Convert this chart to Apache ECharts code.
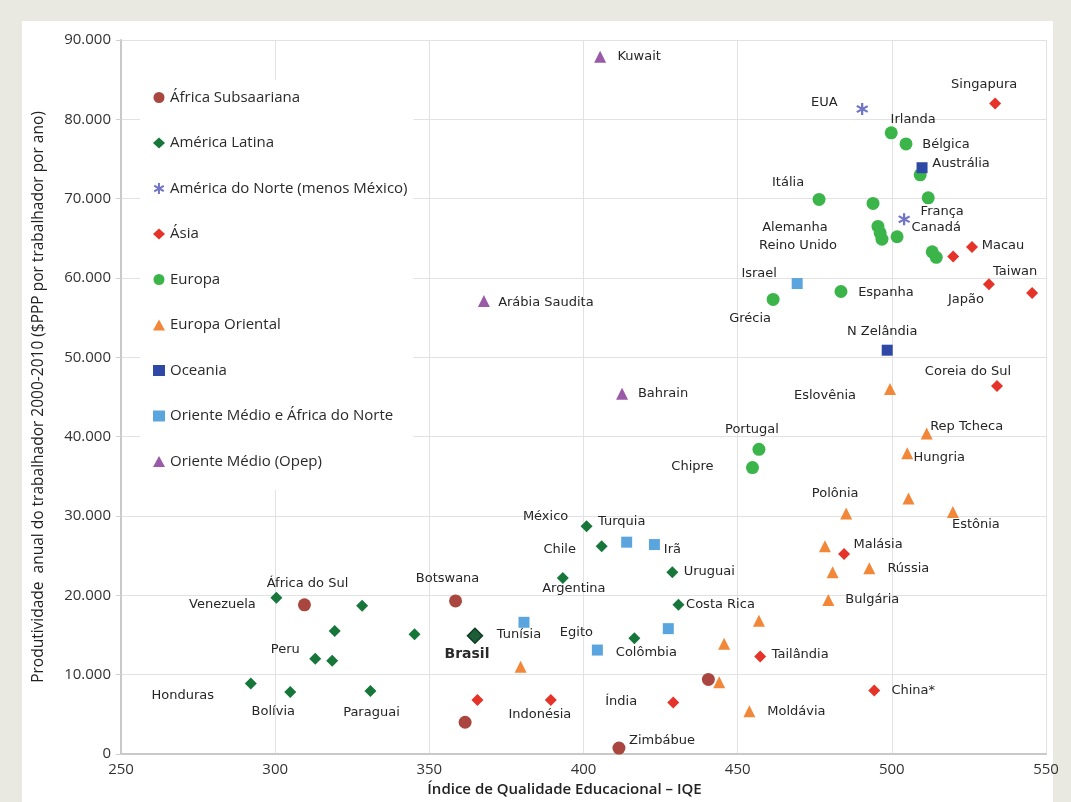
<!DOCTYPE html>
<html><head><meta charset="utf-8">
<script src="https://cdn.jsdelivr.net/npm/echarts@6/dist/echarts.min.js"></script>
<style>
html,body{margin:0;padding:0;background:#e9e8e1;}
#panel{position:absolute;left:22px;top:21px;width:1031px;height:781px;background:#fff;}
#c{position:absolute;left:0;top:0;width:1071px;height:802px;}
</style>
</head><body><div id="panel"></div><div id="c"></div>
<script>
const categories = ['África Subsaariana','América Latina','América do Norte (menos México)','Ásia','Europa','Europa Oriental','Oceania','Oriente Médio e África do Norte','Oriente Médio (Opep)'];
const xTicks = [250, 300, 350, 400, 450, 500, 550];
const yTicks = [0, 10000, 20000, 30000, 40000, 50000, 60000, 70000, 80000, 90000];

const africaSubsaariana = [[309.5,18800,'África do Sul'],[358.5,19300,'Botswana'],[361.6,4000,''],[411.5,750,'Zimbábue'],[440.5,9400,'']];
const americaLatina = [[300.4,19700,'Venezuela'],[328.2,18700,''],[319.3,15500,''],[345.2,15100,''],[364.8,14900,'Brasil'],[313,12000,'Peru'],[318.5,11750,''],[292.1,8900,'Honduras'],[304.9,7800,'Bolívia'],[330.9,7950,'Paraguai'],[401,28700,'México'],[405.9,26200,'Chile'],[393.3,22200,'Argentina'],[428.8,22900,'Uruguai'],[430.8,18800,'Costa Rica'],[416.5,14600,'Colômbia']];
const americaNorte = [[490.4,81300,'EUA'],[504,67400,'Canadá']];
const asia = [[533.5,82000,'Singapura'],[526,63900,'Macau'],[519.9,62700,''],[531.5,59200,'Japão'],[545.5,58100,'Taiwan'],[534.1,46400,'Coreia do Sul'],[484.5,25200,'Malásia'],[457.3,12300,'Tailândia'],[494.3,8000,'China*'],[429.1,6500,'Índia'],[389.4,6800,'Indonésia'],[365.6,6800,'']];
const europa = [[499.8,78300,'Irlanda'],[504.6,76900,'Bélgica'],[509.2,73000,''],[476.4,69900,'Itália'],[493.9,69400,''],[511.8,70100,'França'],[495.5,66500,'Alemanha'],[496.2,65700,''],[496.8,64900,'Reino Unido'],[501.7,65200,''],[513.1,63300,''],[514.4,62600,''],[483.5,58300,'Espanha'],[461.5,57300,'Grécia'],[456.9,38400,'Portugal'],[454.8,36100,'Chipre']];
const europaOriental = [[499.4,46000,'Eslovênia'],[511.3,40400,'Rep Tcheca'],[505,37900,'Hungria'],[505.4,32200,''],[485.2,30300,'Polônia'],[519.8,30500,'Estônia'],[478.3,26200,''],[480.8,22900,''],[492.7,23400,'Rússia'],[479.4,19400,'Bulgária'],[456.9,16800,''],[445.6,13900,''],[444,9050,''],[453.8,5400,'Moldávia'],[379.6,11000,'']];
const oceania = [[509.8,73900,'Austrália'],[498.5,50900,'N Zelândia']];
const orienteMedioAfricaNorte = [[469.3,59300,'Israel'],[414,26700,'Turquia'],[423,26400,'Irã'],[380.7,16600,'Tunísia'],[404.5,13100,'Egito'],[427.5,15800,'']];
const orienteMedioOpep = [[405.4,87900,'Kuwait'],[367.7,57100,'Arábia Saudita'],[412.5,45400,'Bahrain']];

// label placement (text centre relative to marker, px)
const labelOffset = {
 'Kuwait':[39,0],'EUA':[-38,-6],'Singapura':[-11,-19],'Irlanda':[22,-13],'Bélgica':[40,1],'Austrália':[39,-4],
 'Itália':[-31,-17],'França':[14,14],'Canadá':[32,8],'Alemanha':[-83,1],'Reino Unido':[-84,6],'Macau':[31,-1],
 'Taiwan':[-17,-21],'Japão':[-23,15],'Israel':[-38,-10],'Grécia':[-23,19],'Espanha':[45,1],'N Zelândia':[-5,-19],
 'Coreia do Sul':[-29,-14],'Eslovênia':[-65,7],'Bahrain':[41,0],'Arábia Saudita':[62,2],'Portugal':[-7,-20],
 'Chipre':[-60,-1],'Rep Tcheca':[40,-7],'Hungria':[32,4],'Polônia':[-11,-20],'Estônia':[23,13],'México':[-41,-10],
 'Turquia':[-5,-21],'Irã':[18,5],'Chile':[-42,3],'Argentina':[11,11],'Botswana':[-8,-22],'Tunísia':[-5,12],
 'Brasil':[-8,19],'Egito':[-21,-17],'Colômbia':[12,14],'Indonésia':[-11,15],'Índia':[-52,-1],'Zimbábue':[43,-7],
 'Uruguai':[37,-1],'Costa Rica':[42,0],'Malásia':[34,-9],'Rússia':[39,0],'Bulgária':[44,0],'Tailândia':[40,-2],
 'China*':[39,0],'Moldávia':[47,0],'África do Sul':[3,-21],'Venezuela':[-54,7],'Peru':[-30,-9],'Honduras':[-68,12],
 'Bolívia':[-17,20],'Paraguai':[1,22]
};

const asterisk = 'path://M41,0L59,0L59,100L41,100Z M11.7,16.3L98.3,66.3L89.3,81.9L2.7,31.9Z M2.7,68.1L89.3,18.1L98.3,33.7L11.7,83.7Z';

const styles = [
 {data: africaSubsaariana, color:'#a9463f', symbol:'circle', size:13},
 {data: americaLatina, color:'#17773b', symbol:'diamond', size:12},
 {data: americaNorte, color:'#6f74c6', symbol: asterisk, size:12},
 {data: asia, color:'#e5332a', symbol:'diamond', size:12},
 {data: europa, color:'#3bb54a', symbol:'circle', size:13},
 {data: europaOriental, color:'#f2873a', symbol:'triangle', size:12},
 {data: oceania, color:'#2e48a5', symbol:'rect', size:11},
 {data: orienteMedioAfricaNorte, color:'#5aa5de', symbol:'rect', size:11},
 {data: orienteMedioOpep, color:'#9a5aa8', symbol:'triangle', size:12}
];

const labelFont = {fontFamily:'DejaVu Sans', fontSize:13, color:'#262626'};

const series = styles.map((s, i) => ({
  name: categories[i],
  type: 'scatter',
  symbol: s.symbol,
  symbolSize: s.size,
  itemStyle: {color: s.color, opacity: 1},
  data: s.data.map(d => {
    const item = {value: [d[0], d[1]], name: d[2]};
    if (d[2]) {
      const isBr = d[2] === 'Brasil';
      item.label = Object.assign({show: true, position: 'inside', offset: labelOffset[d[2]] || [0, -14],
        formatter: d[2]}, labelFont, isBr ? {fontWeight: 'bold', fontSize: 14, color:'#2a2a2a'} : {});
      if (isBr) {
        item.symbolSize = 15;
        item.itemStyle = {color: '#1d5e38', borderColor: '#0f3a22', borderWidth: 1.5};
      }
    }
    return item;
  }),
  label: {show: false},
  emphasis: {disabled: true}
}));

const fmt = v => String(v).replace(/\B(?=(\d{3})+(?!\d))/g, '.');

const chart = echarts.init(document.getElementById('c'), null, {renderer: 'canvas'});
chart.setOption({
  backgroundColor: 'transparent',
  animation: false,
  textStyle: {fontFamily: 'Open Sans'},
  grid: {left: 121, right: 25, top: 40, bottom: 46, containLabel: false},
  legend: {
    data: categories,
    orient: 'vertical',
    left: 140, top: 80,
    padding: [10, 6, 21, 13],
    itemGap: 30.5,
    itemWidth: 12, itemHeight: 11,
    backgroundColor: '#fff',
    selectedMode: false,
    textStyle: {fontFamily: 'Open Sans', fontSize: 15, color: '#2a2a2a'}
  },
  xAxis: {
    type: 'value', min: xTicks[0], max: xTicks[xTicks.length-1], interval: 50,
    name: 'Índice de Qualidade Educacional – IQE',
    nameLocation: 'middle', nameGap: 28,
    nameTextStyle: {fontFamily: 'Open Sans', fontSize: 15, fontWeight: 600, color: '#222', padding: [0, 38, 0, 0]},
    axisLine: {show: true, lineStyle: {color: '#c9c9c9', width: 2}},
    axisTick: {show: false},
    axisLabel: {fontFamily: 'Open Sans', fontSize: 15, color: '#333', margin: 8},
    splitLine: {show: true, lineStyle: {color: '#e2e2e2', width: 1}}
  },
  yAxis: {
    type: 'value', min: yTicks[0], max: yTicks[yTicks.length-1], interval: 10000,
    name: 'Produtividade  anual do trabalhador 2000-2010 ($PPP por trabalhador por ano)',
    nameLocation: 'middle', nameGap: 74,
    nameTextStyle: {fontFamily: 'Open Sans', fontSize: 15.5, fontWeight: 500, color: '#222'},
    axisLine: {show: true, lineStyle: {color: '#c9c9c9', width: 2}},
    axisTick: {show: true, length: 5, lineStyle: {color: '#d0d0d0'}},
    axisLabel: {fontFamily: 'Open Sans', fontSize: 15, color: '#333', margin: 10, formatter: fmt},
    splitLine: {show: true, lineStyle: {color: '#e2e2e2', width: 1}}
  },
  series: series
});
</script>
</body></html>
